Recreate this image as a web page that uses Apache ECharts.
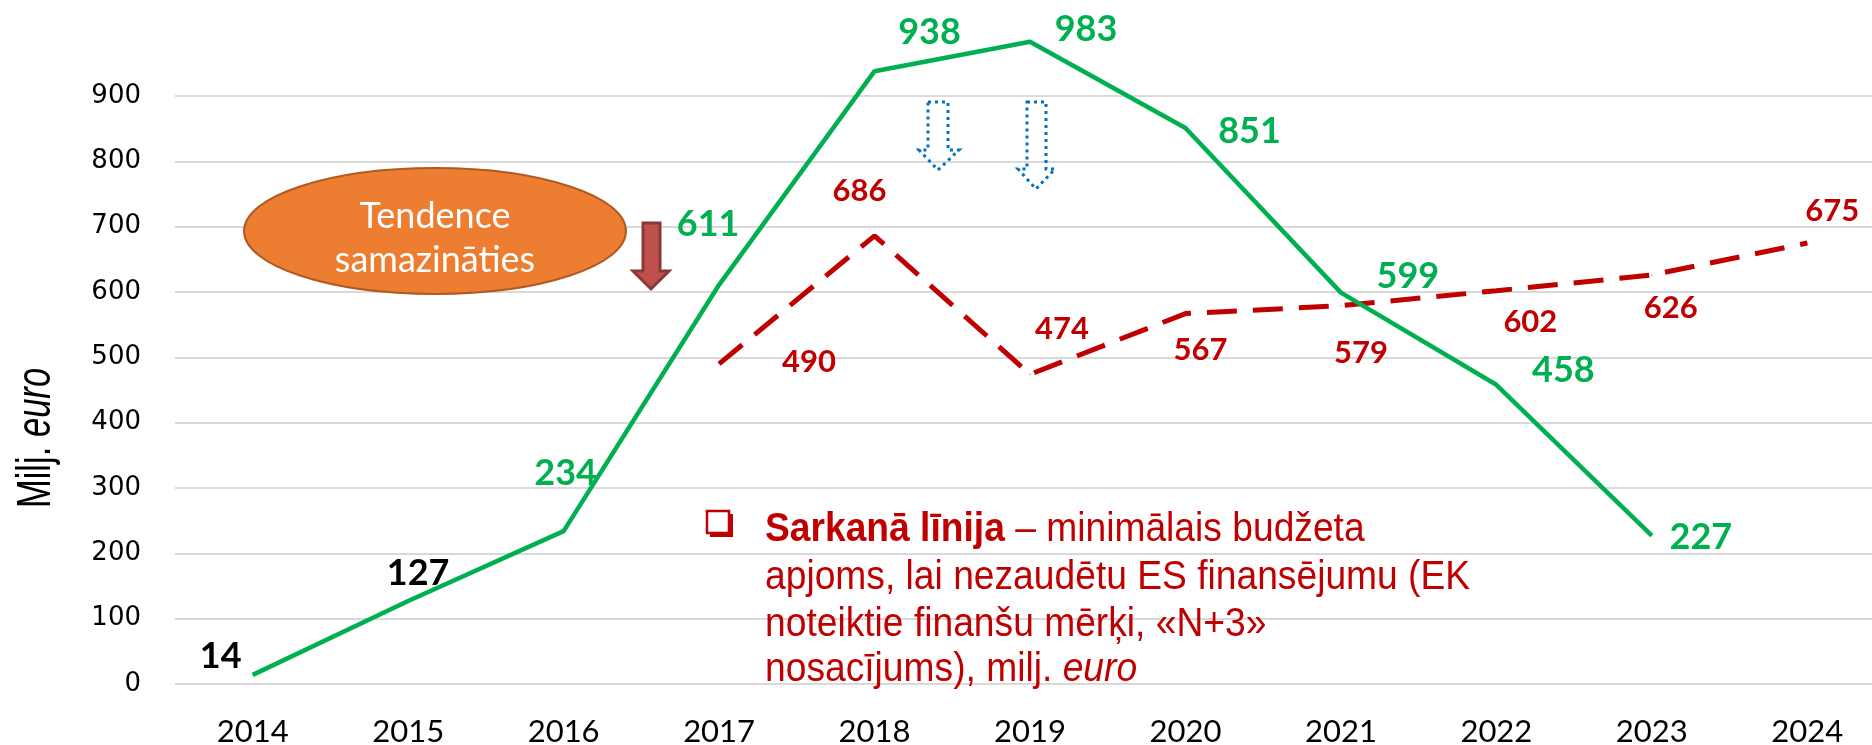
<!DOCTYPE html>
<html>
<head>
<meta charset="utf-8">
<script src="https://cdn.jsdelivr.net/npm/echarts@6/dist/echarts.min.js"></script>
<style>
  html, body { margin: 0; padding: 0; background: #fff; }
  #chart { width: 1872px; height: 745px; }
</style>
</head>
<body>
<div id="chart"></div>
<script>
// years on the x axis
const years = ['2014', '2015', '2016', '2017', '2018', '2019', '2020', '2021', '2022', '2023', '2024'];
// green: actual budget, milj. euro
const actual = [14, 127, 234, 611, 938, 983, 851, 599, 458, 227, '-'];
// red dashed: minimum budget (N+3)
const minimum = ['-', '-', '-', 490, 686, 474, 567, 579, 602, 626, 675];

// label placement, relative to each point (pixels)
const actualOffsets = [[-32, -18], [10, -28], [2, -58], [-11, -60], [55, -39], [56, -12], [64, 3], [67, -16], [67, -14], [49, 2], [0, 0]];
const minimumOffsets = [[0, 0], [0, 0], [0, 0], [90, -2], [-15, -45], [32, -45], [15, 36], [20, 47], [34, 31], [19, 33], [25, -32]];

const GREEN = '#00B050';
const RED = '#C00000';

function withLabels(values, offsets, colorFn) {
  return values.map(function (v, i) {
    if (v === '-') return v;
    return {
      value: v,
      label: { offset: offsets[i], color: colorFn(i) }
    };
  });
}

const chart = echarts.init(document.getElementById('chart'));

const option = {
  animation: false,
  backgroundColor: '#fff',
  grid: { left: 175, top: 96, width: 1710, height: 588, outerBoundsMode: 'none', containLabel: false },
  xAxis: {
    type: 'category',
    data: years,
    boundaryGap: true,
    axisLine: { show: false },
    axisTick: { show: false },
    axisLabel: { margin: 32, fontFamily: 'Lato', fontSize: 31, color: '#000' }
  },
  yAxis: {
    type: 'value',
    min: 0,
    max: 900,
    interval: 100,
    axisLine: { show: false },
    axisTick: { show: false },
    axisLabel: { margin: 34, fontFamily: 'DejaVu Sans', fontSize: 26, color: '#000' },
    splitLine: { lineStyle: { color: '#D9D9D9', width: 2 } }
  },
  series: [
    {
      name: 'actual',
      type: 'line',
      clip: false,
      data: withLabels(actual, actualOffsets, function (i) { return i < 2 ? '#000' : GREEN; }),
      symbol: 'circle',
      symbolSize: 1,
      itemStyle: { color: GREEN },
      lineStyle: { color: GREEN, width: 4.5 },
      label: {
        show: true,
        position: 'inside',
        fontFamily: 'Lato',
        fontWeight: 'bold',
        fontSize: 36
      },
      z: 3
    },
    {
      name: 'minimum',
      type: 'line',
      clip: false,
      data: withLabels(minimum, minimumOffsets, function () { return RED; }),
      symbol: 'circle',
      symbolSize: 1,
      itemStyle: { color: RED },
      lineStyle: { color: RED, width: 5, type: [30, 16] },
      label: {
        show: true,
        position: 'inside',
        fontFamily: 'Lato',
        fontWeight: 'bold',
        fontSize: 31
      },
      z: 2
    }
  ],
  graphic: [
    // y axis title
    {
      type: 'text',
      x: 37,
      y: 438,
      rotation: Math.PI / 2,
      scaleX: 0.72,
      z: 10,
      style: {
        text: '{a|Milj. }{b|euro}',
        align: 'center',
        verticalAlign: 'middle',
        rich: {
          a: { fontFamily: 'Liberation Sans', fontSize: 48, fill: '#000' },
          b: { fontFamily: 'Liberation Sans', fontSize: 48, fontStyle: 'italic', fill: '#000' }
        }
      }
    },
    // orange ellipse note
    {
      type: 'ellipse',
      z: 10,
      shape: { cx: 435, cy: 231, rx: 191, ry: 63 },
      style: { fill: '#ED7D31', stroke: '#AE5A21', lineWidth: 2 }
    },
    {
      type: 'text',
      x: 435,
      y: 238,
      z: 11,
      style: {
        text: 'Tendence\nsamazināties',
        align: 'center',
        verticalAlign: 'middle',
        fontFamily: 'Lato',
        fontSize: 36,
        lineHeight: 44,
        fill: '#fff'
      }
    },
    // dark red down arrow
    {
      type: 'polygon',
      z: 10,
      shape: { points: [[643, 223], [660, 223], [660, 271], [669, 271], [651, 289], [633, 271], [643, 271]] },
      style: { fill: '#C0504D', stroke: '#8C3836', lineWidth: 3 }
    },
    // dotted blue arrows
    {
      type: 'polygon',
      z: 10,
      shape: { points: [[928, 102], [948, 102], [948, 150], [959, 150], [938, 170], [919, 150], [928, 150]] },
      style: { fill: 'none', stroke: '#0070C0', lineWidth: 3, lineDash: [3, 4] }
    },
    {
      type: 'polygon',
      z: 10,
      shape: { points: [[1027, 102], [1046, 102], [1046, 169], [1055, 169], [1036, 189], [1018, 169], [1027, 169]] },
      style: { fill: 'none', stroke: '#0070C0', lineWidth: 3, lineDash: [3, 4] }
    },
    // bullet square
    {
      type: 'rect',
      z: 10,
      shape: { x: 710, y: 514, width: 23, height: 23 },
      style: { fill: RED }
    },
    {
      type: 'rect',
      z: 11,
      shape: { x: 707, y: 511, width: 22, height: 22 },
      style: { fill: '#fff', stroke: RED, lineWidth: 2.5 }
    },
    // red explanatory text
    {
      type: 'text',
      x: 765,
      y: 530,
      scaleX: 0.93,
      z: 10,
      style: {
        text: '{b|Sarkanā līnija} – minimālais budžeta',
        verticalAlign: 'middle',
        fontFamily: 'Liberation Sans',
        fontSize: 40,
        fill: RED,
        rich: { b: { fontFamily: 'Liberation Sans', fontSize: 40, fontWeight: 'bold', fill: RED } }
      }
    },
    {
      type: 'text',
      x: 765,
      y: 578,
      scaleX: 0.93,
      z: 10,
      style: {
        text: 'apjoms, lai nezaudētu ES finansējumu (EK',
        verticalAlign: 'middle',
        fontFamily: 'Liberation Sans',
        fontSize: 40,
        fill: RED
      }
    },
    {
      type: 'text',
      x: 765,
      y: 625,
      scaleX: 0.93,
      z: 10,
      style: {
        text: 'noteiktie finanšu mērķi, «N+3»',
        verticalAlign: 'middle',
        fontFamily: 'Liberation Sans',
        fontSize: 40,
        fill: RED
      }
    },
    {
      type: 'text',
      x: 765,
      y: 670,
      scaleX: 0.93,
      z: 10,
      style: {
        text: 'nosacījums), milj. {i|euro}',
        verticalAlign: 'middle',
        fontFamily: 'Liberation Sans',
        fontSize: 40,
        fill: RED,
        rich: { i: { fontFamily: 'Liberation Sans', fontSize: 40, fontStyle: 'italic', fill: RED } }
      }
    }
  ]
};

chart.setOption(option);
</script>
</body>
</html>
